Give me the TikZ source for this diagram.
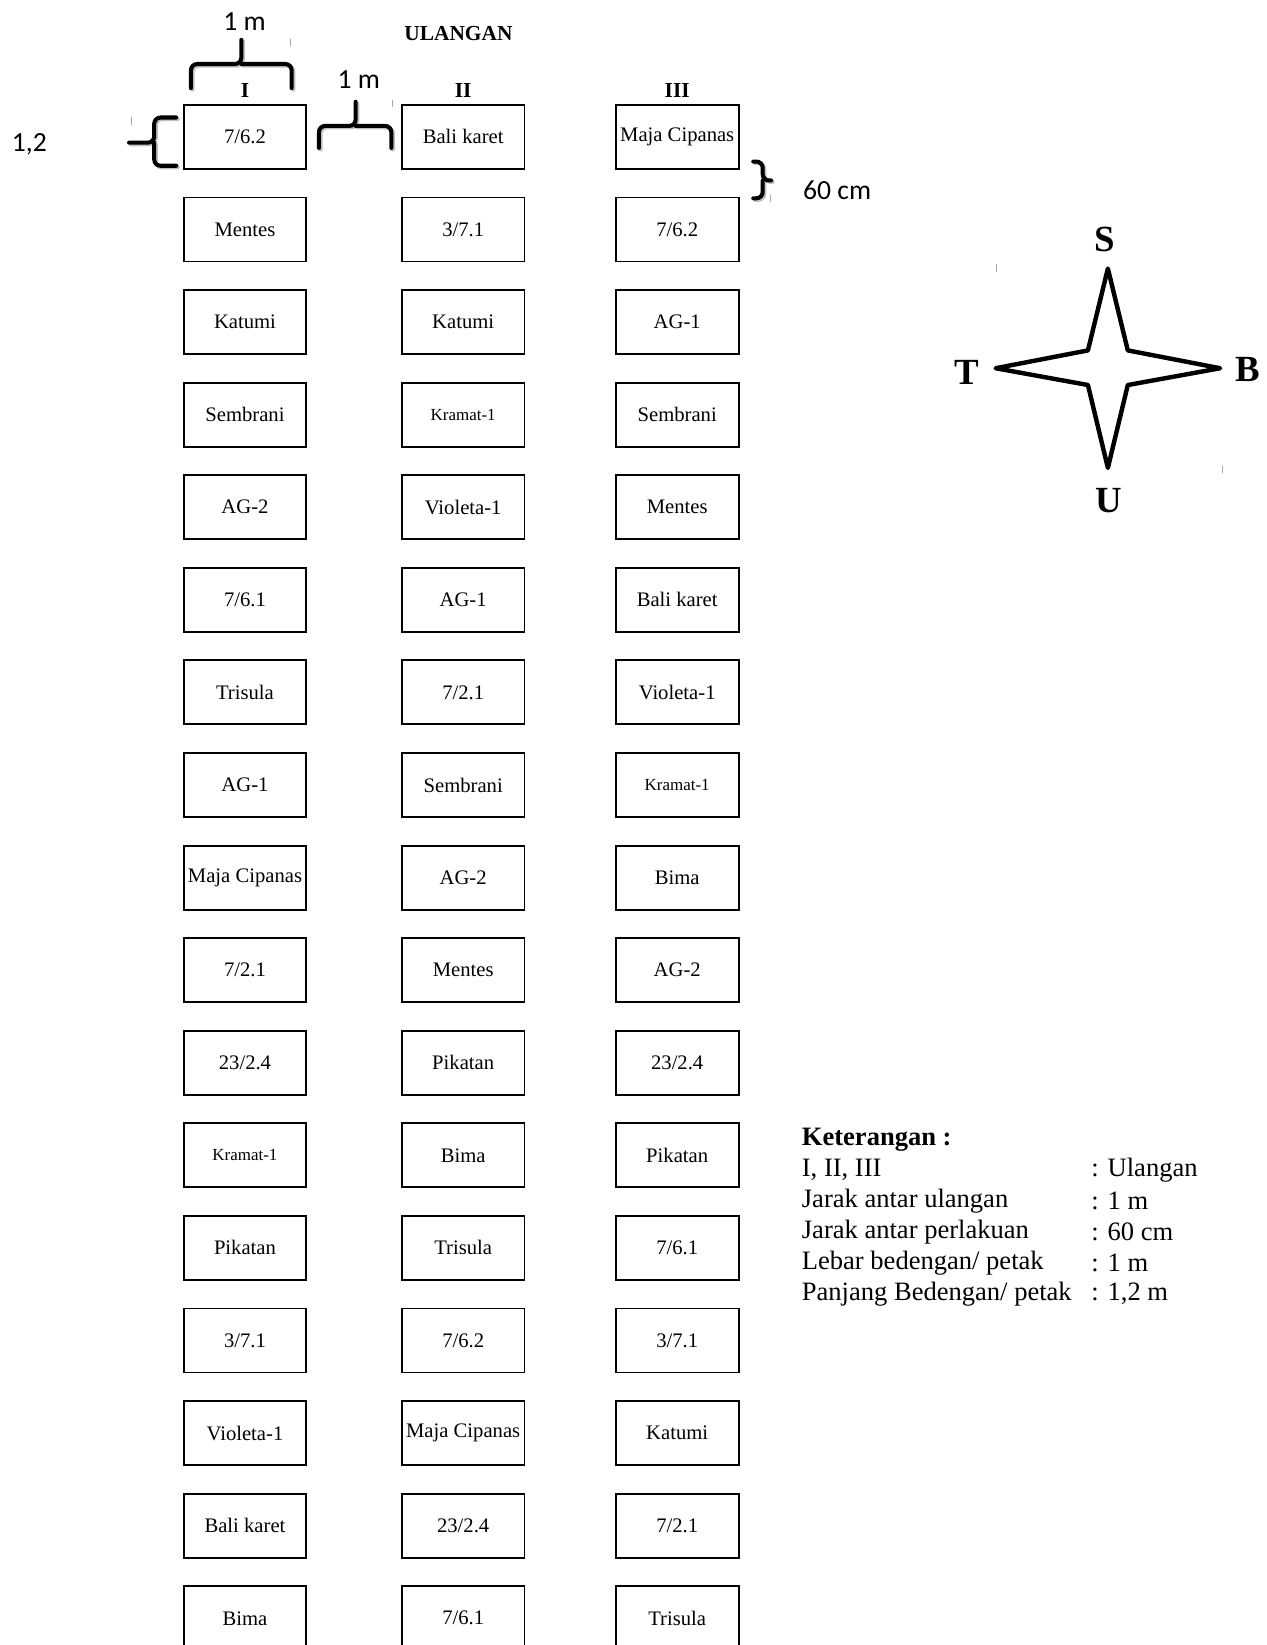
\documentclass[tikz,border=0pt]{standalone}
\usepackage{fontspec}
\setmainfont{Liberation Serif}
\newfontfamily\dimfont{Carlito}
\usetikzlibrary{positioning}
\newcommand\kramatsize{\fontsize{9.2}{10}\selectfont}
\tikzset{
  plot box/.style={draw,line width=1pt,minimum width=23.4mm,minimum height=12.2mm,inner sep=0pt,font=\fontsize{11.2}{13}\selectfont},
  rep label/.style={inner sep=0pt,font=\fontsize{11.6}{13}\selectfont\bfseries},
  dim brace/.style={line width=2.2pt,rounded corners=1.2mm,line cap=round},
  brace shadow/.style={dim brace,gray!50,shift={(1.5,1.5)}},
  dim label/.style={font=\dimfont\fontsize{15}{18}\selectfont},
  wind star/.style={line width=2.4pt,line join=round},
  wind label/.style={font=\fontsize{20}{24}\selectfont\bfseries},
  legend text/.style={anchor=west,inner sep=0pt,font=\fontsize{14.4}{17}\selectfont},
  stray tick/.style={line width=0.4pt,gray!70}
}
\begin{document}
\begin{tikzpicture}[x=0.2mm,y=-0.2mm]
  \useasboundingbox (0,0) rectangle (1207,1568);
  % plots of the three replications
  \foreach \lab [count=\r] in {7/6.2,Mentes,Katumi,Sembrani,AG-2,7/6.1,Trisula,AG-1,Maja Cipanas,7/2.1,23/2.4,{\kramatsize Kramat-1},Pikatan,3/7.1,Violeta-1,Bali karet,Bima}{\node[plot box] (I-\r) at (233.5,{130.5+88.25*(\r-1)}) {\lab};}
  \foreach \lab [count=\r] in {Bali karet,3/7.1,Katumi,{\kramatsize Kramat-1},Violeta-1,AG-1,7/2.1,Sembrani,AG-2,Mentes,Pikatan,Bima,Trisula,7/6.2,Maja Cipanas,23/2.4,7/6.1}{\node[plot box] (II-\r) at (441.5,{130.5+88.25*(\r-1)}) {\lab};}
  \foreach \lab [count=\r] in {Maja Cipanas,7/6.2,AG-1,Sembrani,Mentes,Bali karet,Violeta-1,{\kramatsize Kramat-1},Bima,AG-2,23/2.4,Pikatan,7/6.1,3/7.1,Katumi,7/2.1,Trisula}{\node[plot box] (III-\r) at (645.5,{130.5+88.25*(\r-1)}) {\lab};}
  \node[rep label] (ulangan) at (437,32) {ULANGAN};
  \node[rep label,above=1.2mm of I-1] (rep-I) {I};
  \node[rep label,above=1.2mm of II-1] (rep-II) {II};
  \node[rep label,above=1.2mm of III-1] (rep-III) {III};
  % dimension braces
  \foreach \s in {brace shadow,dim brace}{
    \draw[\s] (182,84) -- (182,61) -- (230,61) -- (230,38);
    \draw[\s] (278,84) -- (278,61) -- (230,61);
    \draw[\s] (304,141) -- (304,120) -- (339,120) -- (339,97);
    \draw[\s] (373,141) -- (373,120) -- (339,120);
    \draw[\s] (168,112) -- (147,112) -- (147,136) -- (123,136);
    \draw[\s] (168,158) -- (147,158) -- (147,136);
    \draw[\s] (718,154) -- (727,154) -- (727,172) -- (735,172);
    \draw[\s] (718,189) -- (727,189) -- (727,172);
  }
  \node[dim label] (width-rep) at (233,21) {1 m};
  \node[dim label] (gap-rep) at (342,76) {1 m};
  \node[dim label] (length-plot) at (28,138) {1,2};
  \node[dim label] (gap-plot) at (798,181) {60 cm};
  \foreach \x/\y in {277/37,374/95,125/112,734/186,950/252,1165/444}{\draw[stray tick] (\x,\y) -- ++(0,7);}
  % compass
  \draw[wind star] (1056,256) -- (1075,334) -- (1163,351) -- (1075,367) -- (1056,446) -- (1037,367) -- (949,351) -- (1037,334) -- cycle;
  \node[wind label] (north) at (1053,228) {S};
  \node[wind label] (south) at (1057,477) {U};
  \node[wind label] (east) at (922,355) {T};
  \node[wind label] (west) at (1189,352) {B};
  % legend
  \node[legend text,font=\fontsize{14.4}{17}\selectfont\bfseries] (legend) at (764,1086) {Keterangan :};
  \foreach \a/\b [count=\i] in {{I, II, III}/{: Ulangan},{Jarak antar ulangan}/{: 1 m},{Jarak antar perlakuan}/{: 60 cm},{Lebar bedengan/ petak}/{: 1 m},{Panjang Bedengan/ petak}/{: 1,2 m}}{
    \node[legend text] (key-\i) at (764,{1086+29.5*\i}) {\a};
    \node[legend text] (value-\i) at (1040,{1086+29.5*\i}) {\b};
  }
\end{tikzpicture}
\end{document}
